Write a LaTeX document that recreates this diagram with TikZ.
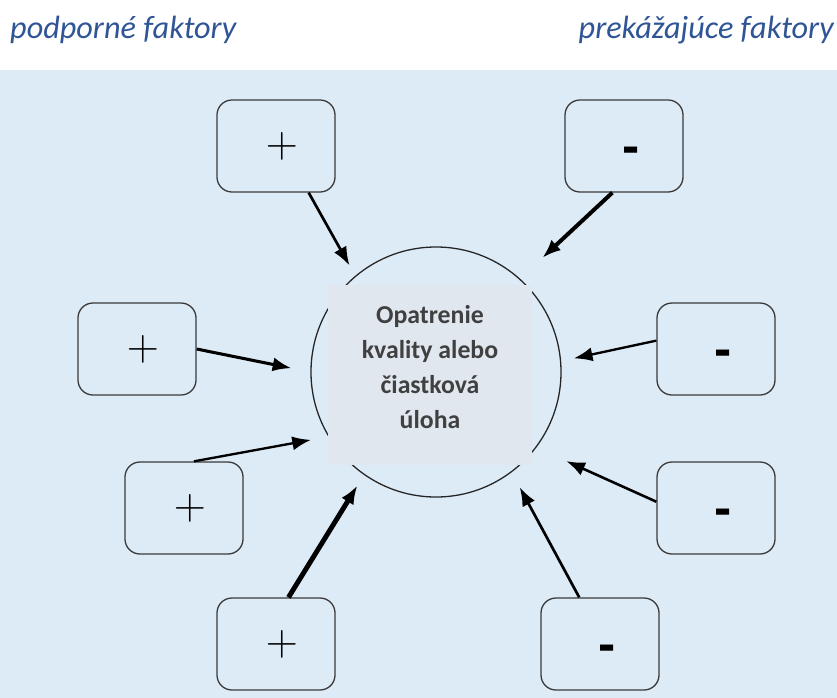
\documentclass[tikz,border=0pt]{standalone}
\usepackage{fix-cm}
\usepackage{fontspec}
\setmainfont{Carlito}
\newfontfamily\signfont{Liberation Sans}
\usetikzlibrary{arrows.meta, positioning}

\definecolor{paneblue}{HTML}{DDEBF7}
\definecolor{headblue}{HTML}{2F5597}
\definecolor{taskfill}{HTML}{E0E7EF}
\definecolor{tasktext}{HTML}{404040}
\definecolor{framegray}{HTML}{3A3A3A}

\begin{document}
\begin{tikzpicture}[x=0.03cm, y=-0.03cm]
        \tikzstyle{factor} = [rectangle, rounded corners=4.5mm, minimum width=3.54cm, minimum height=2.76cm, line width=1.1pt, draw=framegray, fill=paneblue, inner sep=0pt]
        \tikzstyle{plus} = [factor, font=\fontsize{38}{38}\selectfont]
        \tikzstyle{minus} = [factor, font=\signfont\bfseries\fontsize{44}{44}\selectfont, text height=30.5pt, text depth=0pt]
        \tikzstyle{header} = [font=\fontsize{27.5}{30}\selectfont\itshape, text=headblue, inner sep=0pt]
        \tikzstyle{connect} = [-{Latex[length=16pt, width=12pt]}, black]
        % frame and background
        \useasboundingbox (0,0) rectangle (837,698);
        \fill[white] (0,0) rectangle (837,70);
        \fill[paneblue] (0,70) rectangle (837,698);
        % headings
        \node[header, anchor=base west] (pro) at (10,38) {podporné faktory};
        \node[header, anchor=base east] (con) at (834,38) {prekážajúce faktory};
        % centre
        \node[circle, minimum size=7.5cm, draw=black!85, line width=1.1pt] (core) at (436,372) {};
        \node[rectangle, minimum width=6.12cm, minimum height=5.4cm, fill=taskfill, align=center, text=tasktext, font=\bfseries\fontsize{22}{30}\selectfont, text depth=13.6pt] (task) at (430,375) {Opatrenie\\kvality alebo\\čiastková\\úloha};
        % supporting factors
        \node[plus] (p1) at (276,146) {\hspace*{0.36cm}$+$};
        \node[plus] (p2) at (137,349) {\hspace*{0.36cm}$+$};
        \node[plus] (p3) at (184,508) {\hspace*{0.36cm}$+$};
        \node[plus] (p4) at (276,644) {\hspace*{0.36cm}$+$};
        % hindering factors
        \node[minus] (m1) at (624,146) {\hspace*{0.42cm}-};
        \node[minus] (m2) at (716,349) {\hspace*{0.42cm}-};
        \node[minus] (m3) at (716,508) {\hspace*{0.42cm}-};
        \node[minus] (m4) at (600,644) {\hspace*{0.42cm}-};
        % influences
        \draw[connect, line width=2.3pt, shorten >=10pt] (p1.-55) -- (core.130);
        \draw[connect, line width=2.6pt, shorten >=16.5pt] (p2.east) -- (core.180);
        \draw[connect, line width=2pt, shorten >=15pt] (p3.78) -- (core.211);
        \draw[connect, line width=4.2pt, shorten >=10.5pt] (p4.75) -- (core.235);
        \draw[connect, line width=3.4pt, shorten >=26pt] (m1.-104) -- (core.48);
        \draw[connect, line width=2pt, shorten >=11pt] (m2.172) -- (core.5);
        \draw[connect, line width=2.2pt, shorten >=28pt] (m3.174) -- (core.-37);
        \draw[connect, line width=2.3pt, shorten >=14.5pt] (m4.114) -- (core.-53);
\end{tikzpicture}
\end{document}
